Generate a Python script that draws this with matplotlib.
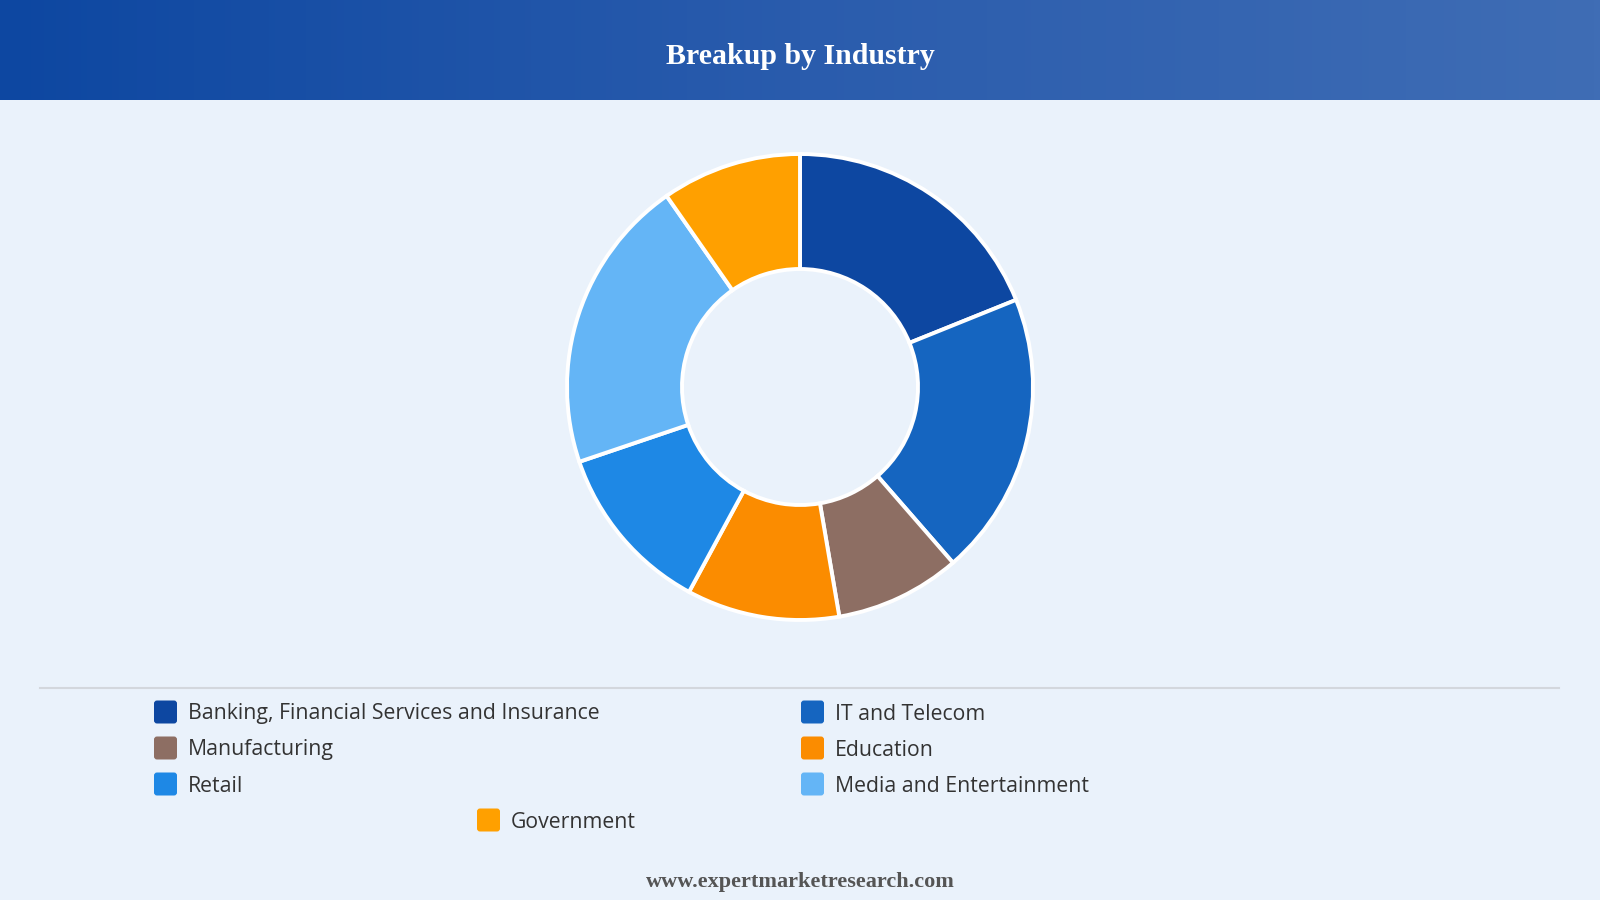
import numpy as np
import matplotlib
matplotlib.use("Agg")
import matplotlib.pyplot as plt
from matplotlib.patches import FancyBboxPatch
from matplotlib.colors import LinearSegmentedColormap

# ---- data ----
categories = ["Banking, Financial Services and Insurance", "IT and Telecom",
              "Manufacturing", "Education", "Retail",
              "Media and Entertainment", "Government"]
shares = [18.9, 19.7, 8.7, 10.6, 11.9, 20.5, 9.7]
colors = ["#0D47A1", "#1565C0", "#8D6E63", "#FB8C00", "#1E88E5", "#64B5F6", "#FFA000"]
title = "Breakup by Industry"
footer = "www.expertmarketresearch.com"

W, H = 1600, 900
BG = "#EAF2FB"
fig = plt.figure(figsize=(16, 9), dpi=100, facecolor=BG)

# background axes in pixel coords
bg = fig.add_axes([0, 0, 1, 1])
bg.set_xlim(0, W)
bg.set_ylim(H, 0)
bg.axis("off")
bg.set_facecolor(BG)

# header gradient
cmap = LinearSegmentedColormap.from_list("hdr", ["#0D47A1", "#2A5CAD", "#3F6DB5"])
grad = np.linspace(0, 1, 512).reshape(1, -1)
bg.imshow(grad, cmap=cmap, extent=[0, W, 100, 0], aspect="auto", zorder=0)
bg.set_xlim(0, W)
bg.set_ylim(H, 0)
bg.text(W / 2, 56, title, color="white", fontsize=21.5, fontweight="bold",
        family="Liberation Serif", ha="center", va="center", zorder=2)

# separator line
bg.plot([40, 1559], [688, 688], color="#D3D7DD", lw=1.5, zorder=1)

# legend
row_y = [712, 748, 784]
col_sq = [154, 801]
sq = 23
for i, (lab, c) in enumerate(zip(categories, colors)):
    if i < 6:
        x0 = col_sq[i % 2]
        y0 = row_y[i // 2]
    else:
        x0 = 477
        y0 = 820
    bg.add_patch(FancyBboxPatch((x0 + 3, y0 - sq / 2 + 3), sq - 6, sq - 6,
                                boxstyle="round,pad=3", fc=c, ec="none", zorder=2))
    bg.text(x0 + sq + 11, y0 + 2, lab, fontsize=15.3, color="#333333",
            family="Open Sans", ha="left", va="center", zorder=2)

# footer
bg.text(W / 2, 882, footer, color="#555555", fontsize=16, fontweight="bold",
        family="Liberation Serif", ha="center", va="center")

# donut
cx, cy, half = 800, 387, 250
ax = fig.add_axes([(cx - half) / W, (H - cy - half) / H, 2 * half / W, 2 * half / H])
ax.set_facecolor("none")
ax.pie(shares, colors=colors, radius=233, startangle=90, counterclock=False,
       wedgeprops=dict(width=115, edgecolor="white", linewidth=2.8))
ax.set_xlim(-half, half)
ax.set_ylim(-half, half)
ax.set_aspect("equal")
ax.axis("off")

fig.savefig("out.png", dpi=100, facecolor=BG)
